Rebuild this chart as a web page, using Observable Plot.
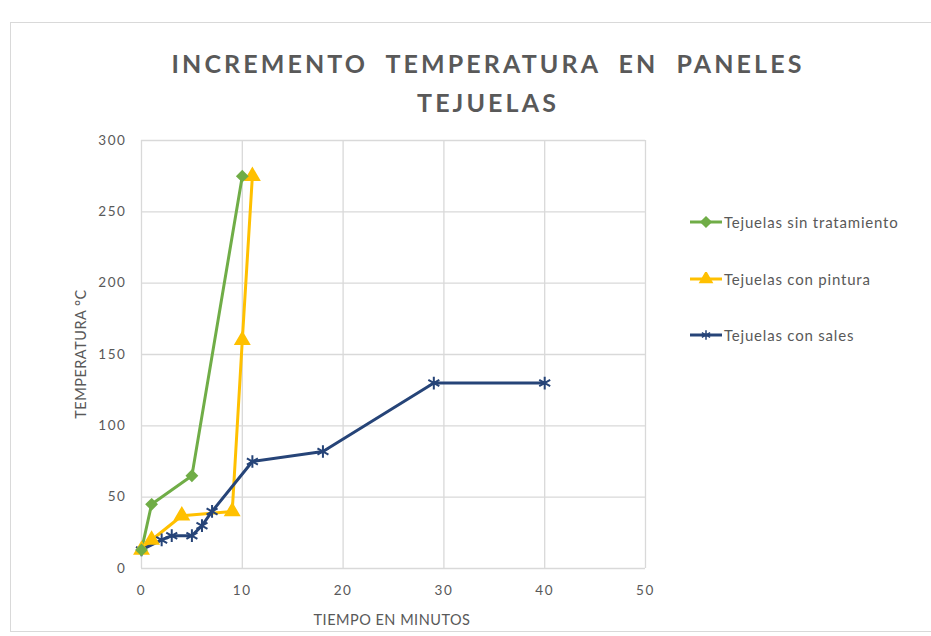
<!DOCTYPE html>
<html>
<head>
<meta charset="utf-8">
<script src="https://cdn.jsdelivr.net/npm/d3@7"></script>
<script src="https://cdn.jsdelivr.net/npm/@observablehq/plot@0.6"></script>
<style>
  html, body { margin: 0; padding: 0; background: #fff; }
  #wrap { position: relative; width: 931px; height: 636px; overflow: hidden; font-family: Lato, "Open Sans", sans-serif; color: #595959; }
  #frame { position: absolute; left: 10px; top: 22px; width: 940px; height: 610px; border: 1.5px solid #d9d9d9; box-sizing: border-box; }
  #title { position: absolute; left: 0; width: 976px; top: 44px; text-align: center; font-weight: 700; font-size: 25px; line-height: 39px; letter-spacing: 3.1px; word-spacing: 9px; color: #595959; }
  #chart { position: absolute; left: 0; top: 0; }
  #chart svg { letter-spacing: 1.6px; }
  .axis-title { position: absolute; font-size: 14.5px; letter-spacing: 0.5px; color: #595959; white-space: nowrap; }
  #xtitle { left: 392px; top: 619px; transform: translate(-50%, -50%); }
  #ytitle { left: 80px; top: 354px; transform: translate(-50%, -50%) rotate(-90deg); }
  #legend { position: absolute; left: 690px; top: 0; }
  .item { position: absolute; left: 0; display: flex; align-items: center; white-space: nowrap; font-size: 15px; letter-spacing: 0.8px; color: #595959; transform: translateY(-50%); }
  .item svg { margin-right: 0px; }
</style>
</head>
<body>
<div id="wrap">
  <div id="frame"></div>
  <div id="chart"></div>
  <div id="title">INCREMENTO TEMPERATURA EN PANELES<br>TEJUELAS</div>
  <div class="axis-title" id="xtitle">TIEMPO EN MINUTOS</div>
  <div class="axis-title" id="ytitle">TEMPERATURA °C</div>
  <div id="legend"></div>
</div>
<script>
// Series names, colours and marker symbols
const seriesNames = ["Tejuelas sin tratamiento", "Tejuelas con pintura", "Tejuelas con sales"];
const seriesColors = ["#70ad47", "#ffc000", "#264478"];
const seriesSymbols = ["diamond2", "triangle", "asterisk"];
const seriesRadius = [4.5, 5, 6];

// Time (minutes) and temperature (°C) readings for each series
const sinTratamientoMin = [0, 1, 5, 10];
const sinTratamientoTemp = [13, 45, 65, 275];
const conPinturaMin = [0, 1, 4, 9, 10, 11];
const conPinturaTemp = [13, 20, 37, 40, 160, 275];
const conSalesMin = [0, 2, 3, 5, 6, 7, 11, 18, 29, 40];
const conSalesTemp = [13, 20, 23, 23, 30, 40, 75, 82, 130, 130];

// Axis ticks
const xTicks = [0, 10, 20, 30, 40, 50];
const yTicks = [0, 50, 100, 150, 200, 250, 300];

const columns = [
  [sinTratamientoMin, sinTratamientoTemp],
  [conPinturaMin, conPinturaTemp],
  [conSalesMin, conSalesTemp]
];
const data = columns.flatMap(([xs, ys], i) =>
  xs.map((t, j) => ({serie: seriesNames[i], minutos: t, temp: ys[j], r: seriesRadius[i]}))
);

const chart = Plot.plot({
  width: 931,
  height: 636,
  marginLeft: 141,
  marginRight: 286,
  marginTop: 140,
  marginBottom: 68,
  style: {fontFamily: "Lato, 'Open Sans', sans-serif", fontSize: "13.5px", color: "#595959", background: "transparent"},
  x: {domain: [0, 50], ticks: xTicks},
  y: {domain: [0, 300], ticks: yTicks},
  r: {type: "identity"},
  color: {domain: seriesNames, range: seriesColors},
  symbol: {domain: seriesNames, range: seriesSymbols},
  marks: [
    Plot.ruleX(xTicks, {stroke: "#d9d9d9", strokeWidth: 1.3}),
    Plot.ruleY(yTicks, {stroke: "#d9d9d9", strokeWidth: 1.3}),
    Plot.axisX({ticks: xTicks, tickSize: 0, tickPadding: 17, label: null, fill: "#595959"}),
    Plot.axisY({ticks: yTicks, tickSize: 0, tickPadding: 15, label: null, fill: "#595959"}),
    Plot.line(data, {x: "minutos", y: "temp", z: "serie", stroke: "serie", strokeWidth: 3}),
    Plot.dot(data, {x: "minutos", y: "temp", symbol: "serie", stroke: "serie", fill: "serie", r: "r", strokeWidth: 2})
  ]
});
document.getElementById("chart").appendChild(chart);

// Legend: a short line with its marker next to each series name
const legendY = [222, 279, 335];
const legend = d3.select("#legend");
seriesNames.forEach((name, i) => {
  const item = legend.append("div").attr("class", "item").style("top", legendY[i] + "px");
  const svg = item.append("svg").attr("width", 34).attr("height", 14);
  svg.append("line").attr("x1", 0).attr("x2", 32).attr("y1", 7).attr("y2", 7)
    .attr("stroke", seriesColors[i]).attr("stroke-width", 3);
  const sym = {diamond2: d3.symbolDiamond2, triangle: d3.symbolTriangle, asterisk: d3.symbolAsterisk}[seriesSymbols[i]];
  svg.append("path").attr("d", d3.symbol(sym, 64)()).attr("transform", "translate(16,7)")
    .attr("fill", seriesColors[i]).attr("stroke", seriesColors[i]).attr("stroke-width", 1.5);
  item.append("span").text(name);
});
</script>
</body>
</html>
